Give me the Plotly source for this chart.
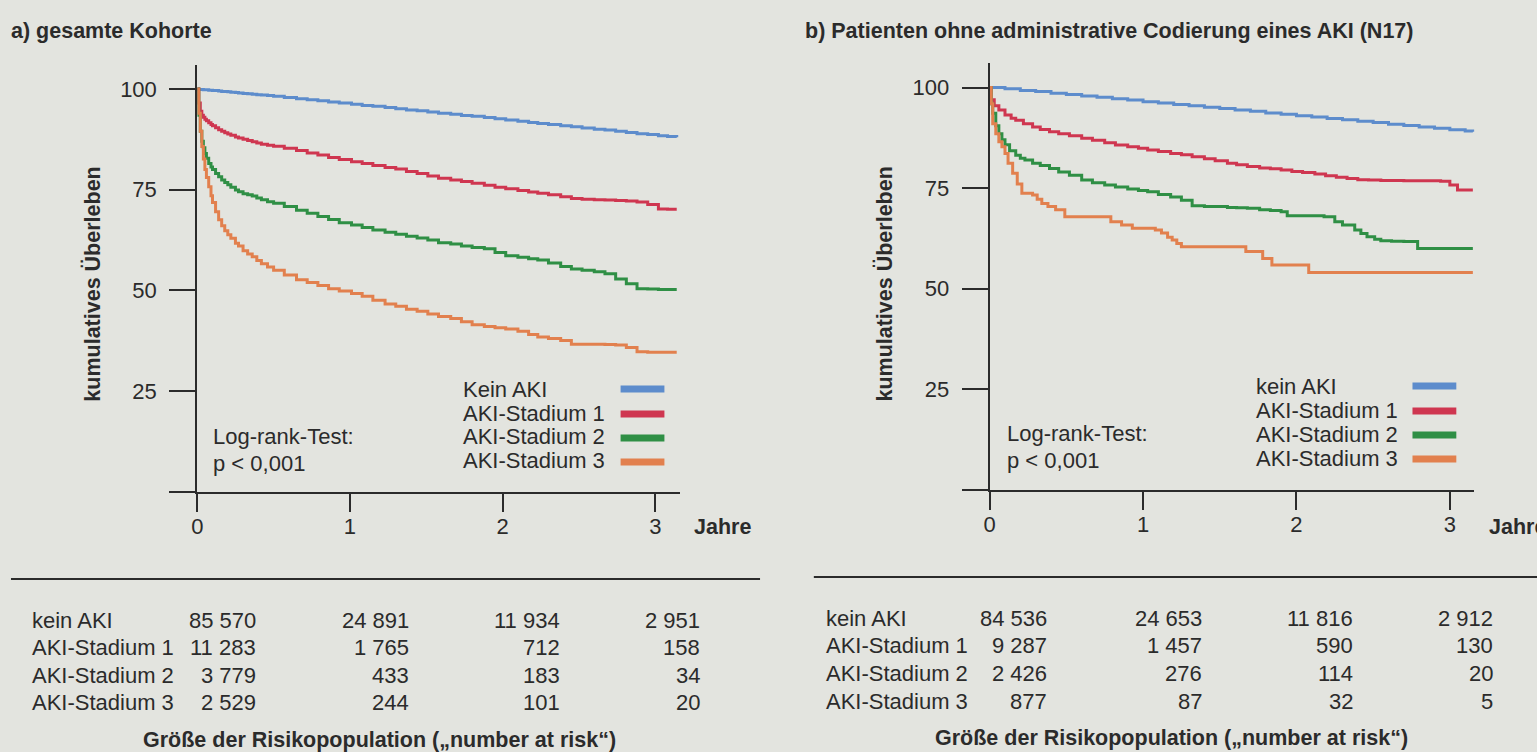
import plotly.graph_objects as go

# ---------------------------------------------------------------------------
# Kaplan-Meier survival (percent) by AKI stage
# ---------------------------------------------------------------------------
groups = ["kein AKI", "AKI-Stadium 1", "AKI-Stadium 2", "AKI-Stadium 3"]
legend_a = ["Kein AKI", "AKI-Stadium 1", "AKI-Stadium 2", "AKI-Stadium 3"]
legend_b = ["kein AKI", "AKI-Stadium 1", "AKI-Stadium 2", "AKI-Stadium 3"]
colors = ["#5d8ccc", "#cf3650", "#2f8f45", "#e2804e"]

# a) whole cohort: shared time grid (years)
t_a = [0, 0.01, 0.02, 0.03, 0.04, 0.05, 0.06, 0.075, 0.09, 0.1, 0.12, 0.14,
       0.16, 0.18, 0.2, 0.22, 0.25, 0.27, 0.3, 0.33, 0.36, 0.39, 0.42, 0.46,
       0.5, 0.57, 0.65, 0.72, 0.79, 0.86, 0.93, 1.01, 1.08, 1.15, 1.23, 1.3,
       1.37, 1.44, 1.51, 1.58, 1.66, 1.73, 1.8, 1.88, 1.95, 2.02, 2.1, 2.17,
       2.23, 2.3, 2.38, 2.45, 2.52, 2.6, 2.67, 2.74, 2.81, 2.88, 2.95, 3.02,
       3.08, 3.14]
surv_a_none = [100, 99.9, 99.9, 99.9, 99.8, 99.8, 99.8, 99.7, 99.7, 99.6, 99.6,
               99.5, 99.4, 99.4, 99.3, 99.2, 99.1, 99.0, 98.9, 98.8, 98.7, 98.6,
               98.5, 98.4, 98.2, 97.9, 97.6, 97.3, 97.1, 96.8, 96.5, 96.2, 95.9,
               95.7, 95.4, 95.1, 94.8, 94.6, 94.3, 94.0, 93.7, 93.4, 93.2, 92.9,
               92.6, 92.3, 92.0, 91.7, 91.4, 91.2, 90.9, 90.6, 90.3, 90.0, 89.8,
               89.5, 89.2, 88.9, 88.7, 88.4, 88.2, 88.0]
surv_a_s1 = [100, 96.5, 94.5, 93.5, 93.0, 92.5, 92.1, 91.6, 91.2, 90.9, 90.4,
             89.9, 89.5, 89.1, 88.8, 88.5, 88.1, 87.8, 87.5, 87.2, 86.9, 86.6,
             86.3, 86.0, 85.8, 85.3, 84.7, 84.1, 83.6, 83.0, 82.5, 81.9, 81.5,
             81.0, 80.5, 80.1, 79.5, 79.0, 78.4, 77.8, 77.4, 77.0, 76.6, 76.1,
             75.6, 75.2, 74.8, 74.4, 74.1, 73.7, 73.2, 72.8, 72.6, 72.5, 72.4,
             72.3, 72.2, 71.9, 71.3, 70.2, 70.1, 70.1]
surv_a_s2 = [100, 93.5, 89.5, 87.0, 85.4, 84.0, 82.8, 81.5, 80.6, 80.0, 79.0,
             78.2, 77.4, 76.8, 76.2, 75.6, 74.9, 74.5, 74.0, 73.7, 73.4, 72.9,
             72.5, 72.0, 71.6, 70.8, 69.9, 69.1, 68.3, 67.6, 66.8, 66.2, 65.6,
             65.0, 64.4, 63.9, 63.4, 63.0, 62.5, 61.8, 61.5, 61.0, 60.6, 60.3,
             59.4, 58.6, 58.2, 57.8, 57.5, 56.8, 55.9, 55.3, 55.0, 54.6, 54.1,
             52.8, 51.6, 50.4, 50.3, 50.2, 50.2, 50.2]
surv_a_s3 = [100, 94.0, 89.5, 85.7, 82.6, 80.0, 78.0, 75.7, 73.5, 71.8, 69.5,
             67.5, 66.0, 64.8, 63.8, 62.9, 61.7, 61.0, 59.8, 59.0, 58.3, 57.4,
             56.6, 55.8, 55.0, 53.8, 52.6, 51.9, 51.2, 50.4, 49.8, 49.2, 48.5,
             47.5, 46.6, 46.0, 45.3, 44.8, 44.1, 43.5, 43.0, 42.2, 41.4, 41.0,
             40.7, 40.4, 39.8, 39.0, 38.4, 38.0, 37.5, 36.6, 36.6, 36.6, 36.5,
             36.4, 35.8, 34.7, 34.6, 34.6, 34.6, 34.6]

# b) patients without administrative AKI coding (N17)
t_b_none = [0, 0.1, 0.2, 0.3, 0.4, 0.5, 0.6, 0.7, 0.8, 0.9, 1.0, 1.1, 1.2, 1.3,
            1.4, 1.5, 1.6, 1.7, 1.8, 1.9, 2.0, 2.1, 2.2, 2.3, 2.4, 2.5, 2.6,
            2.7, 2.8, 2.9, 3.0, 3.1, 3.15]
surv_b_none = [100, 99.7, 99.3, 99.0, 98.6, 98.3, 97.9, 97.6, 97.2, 96.9, 96.5,
               96.2, 95.8, 95.5, 95.1, 94.8, 94.4, 94.1, 93.7, 93.4, 93.0, 92.7,
               92.3, 92.0, 91.6, 91.3, 90.9, 90.6, 90.2, 89.9, 89.5, 89.2, 89.0]
t_b_s1 = [0, 0.01, 0.03, 0.06, 0.1, 0.14, 0.17, 0.22, 0.28, 0.33, 0.39, 0.45,
          0.52, 0.6, 0.67, 0.75, 0.82, 0.9, 0.97, 1.03, 1.1, 1.18, 1.25, 1.32,
          1.4, 1.47, 1.55, 1.61, 1.68, 1.76, 1.83, 1.9, 1.97, 2.04, 2.12, 2.19,
          2.26, 2.33, 2.4, 2.47, 2.55, 2.62, 2.7, 2.78, 2.86, 2.94, 3.0, 3.05,
          3.1, 3.15]
surv_b_s1 = [100, 97.0, 95.5, 94.4, 93.2, 92.4, 91.9, 91.0, 90.2, 89.6, 89.0,
             88.5, 88.0, 87.4, 86.9, 86.3, 85.7, 85.3, 84.9, 84.5, 84.1, 83.6,
             83.3, 82.8, 82.3, 81.8, 81.2, 80.8, 80.4, 80.0, 79.8, 79.5, 79.1,
             78.9, 78.5, 78.1, 77.7, 77.4, 77.1, 77.0, 76.9, 76.9, 76.8, 76.8,
             76.8, 76.7, 75.8, 74.5, 74.5, 74.5]
t_b_s2 = [0, 0.01, 0.02, 0.04, 0.06, 0.08, 0.1, 0.13, 0.17, 0.2, 0.23, 0.28,
          0.33, 0.39, 0.45, 0.52, 0.6, 0.67, 0.75, 0.82, 0.9, 0.97, 1.03, 1.1,
          1.18, 1.25, 1.32, 1.4, 1.55, 1.61, 1.68, 1.76, 1.83, 1.9, 1.94, 2.18,
          2.25, 2.3, 2.38, 2.42, 2.46, 2.51, 2.55, 2.62, 2.7, 2.79, 3.15]
surv_b_s2 = [100, 96.0, 93.6, 90.5, 88.5, 87.0, 85.8, 84.3, 83.2, 82.4, 82.0,
             81.2, 80.6, 79.9, 79.0, 78.2, 77.0, 76.3, 75.8, 75.3, 74.8, 74.4,
             74.1, 73.4, 72.8, 72.0, 70.6, 70.4, 70.2, 70.1, 70.0, 69.6, 69.4,
             69.1, 68.1, 67.9, 66.6, 65.8, 64.6, 63.7, 62.9, 62.3, 61.9, 61.8,
             61.7, 60.0, 60.0]
t_b_s3 = [0, 0.01, 0.02, 0.04, 0.06, 0.08, 0.1, 0.12, 0.15, 0.18, 0.21, 0.28,
          0.31, 0.34, 0.38, 0.43, 0.49, 0.79, 0.86, 0.93, 1.08, 1.12, 1.16,
          1.19, 1.22, 1.25, 1.67, 1.78, 1.84, 2.08, 3.15]
surv_b_s3 = [100, 96.0, 91.0, 88.5, 86.5, 85.3, 83.6, 81.2, 78.7, 76.0, 73.7,
             73.3, 72.2, 71.2, 70.4, 69.6, 67.9, 66.6, 65.8, 65.0, 64.6, 63.8,
             62.8, 62.1, 61.2, 60.4, 59.2, 57.5, 55.9, 54.0, 54.0]

# number at risk at 0, 1, 2, 3 years
risk_a = [[85570, 24891, 11934, 2951],
          [11283, 1765, 712, 158],
          [3779, 433, 183, 34],
          [2529, 244, 101, 20]]
risk_b = [[84536, 24653, 11816, 2912],
          [9287, 1457, 590, 130],
          [2426, 276, 114, 20],
          [877, 87, 32, 5]]

year_ticks = [0, 1, 2, 3]
surv_ticks = [0, 25, 50, 75, 100]
surv_ticktext = ["", "25", "50", "75", "100"]

# ---------------------------------------------------------------------------
W, H = 1537, 752
BG = "#e3e4df"
INK = "#2b2b2b"
FONT = "Liberation Sans, Arial, Helvetica, sans-serif"
FS = 22        # regular text size
FSB = 21.5     # bold text size


def px(x):
    return x / W


def py(y):
    return 1 - y / H


def fmt(n):
    return f"{n:,}".replace(",", " ")


fig = go.Figure()

curves_a = [(t_a, surv_a_none), (t_a, surv_a_s1), (t_a, surv_a_s2), (t_a, surv_a_s3)]
curves_b = [(t_b_none, surv_b_none), (t_b_s1, surv_b_s1),
            (t_b_s2, surv_b_s2), (t_b_s3, surv_b_s3)]

for (t, s), name, col in zip(curves_a, groups, colors):
    fig.add_trace(go.Scatter(x=t, y=s, mode="lines", name=name,
                             line=dict(color=col, width=3, shape="hv"),
                             xaxis="x", yaxis="y", showlegend=False))
for (t, s), name, col in zip(curves_b, groups, colors):
    fig.add_trace(go.Scatter(x=t, y=s, mode="lines", name=name,
                             line=dict(color=col, width=3, shape="hv"),
                             xaxis="x2", yaxis="y2", showlegend=False))

axis_common = dict(showline=True, linecolor=INK, linewidth=2, showgrid=False,
                   zeroline=False, ticks="outside", tickcolor=INK, tickwidth=2,
                   tickfont=dict(family=FONT, size=FS, color=INK))

# panel geometry (pixels): y-axis position, px per year, baseline, px per %
panels = {
    "a": dict(x0=192, xs=153.3, y0=491.5, ys=4.025),
    "b": dict(x0=987.5, xs=154.0, y0=489.6, ys=4.02),
}
XMAX, YMAX = 3.16, 106

layout_axes = {}
for key, (xa, ya) in zip(["a", "b"], [("xaxis", "yaxis"), ("xaxis2", "yaxis2")]):
    g = panels[key]
    layout_axes[xa] = dict(
        axis_common, domain=[px(g["x0"]), px(g["x0"] + XMAX * g["xs"])],
        range=[0, XMAX], tickvals=year_ticks, ticklen=18, ticklabelstandoff=-4,
        anchor="y" if key == "a" else "y2")
    layout_axes[ya] = dict(
        axis_common, domain=[py(g["y0"]), py(g["y0"] - YMAX * g["ys"])],
        range=[0, YMAX], tickvals=surv_ticks, ticktext=surv_ticktext,
        ticklen=26, ticklabelstandoff=8,
        anchor="x" if key == "a" else "x2")

annotations = []
shapes = []


def text(x, y, s, size=FS, bold=False, xanchor="left", angle=0):
    annotations.append(dict(
        x=px(x), y=py(y), xref="paper", yref="paper", showarrow=False,
        text=f"<b>{s}</b>" if bold else s, xanchor=xanchor, yanchor="middle",
        textangle=angle, borderpad=0,
        font=dict(family=FONT, size=size, color=INK)))


def hline(x0, x1, y, color=INK, width=2):
    shapes.append(dict(type="line", xref="paper", yref="paper",
                       x0=px(x0), x1=px(x1), y0=py(y), y1=py(y),
                       line=dict(color=color, width=width)))


# titles
text(4, 31, "a) gesamte Kohorte", size=FSB, bold=True)
text(801, 31, "b) Patienten ohne administrative Codierung eines AKI (N17)",
     size=FSB, bold=True)

# y-axis titles and time unit
text(86, 284, "kumulatives Überleben", size=FSB, bold=True, xanchor="center", angle=-90)
text(881, 284, "kumulatives Überleben", size=FSB, bold=True, xanchor="center", angle=-90)
text(690, 527, "Jahre", size=FSB, bold=True)
text(1488, 527, "Jahre", size=FSB, bold=True)

# legends (label left, colour swatch right)
leg_a = dict(tx=458, sx0=617, sx1=661, ty=[390, 413, 437, 461], sy=[389, 414, 438, 462])
leg_b = dict(tx=1254, sx0=1412, sx1=1456, ty=[386, 410, 434, 458], sy=[386, 411, 435, 459])
for leg, names in [(leg_a, legend_a), (leg_b, legend_b)]:
    for name, col, ty, sy in zip(names, colors, leg["ty"], leg["sy"]):
        text(leg["tx"], ty, name)
        hline(leg["sx0"], leg["sx1"], sy, color=col, width=7)

# log-rank test
text(207, 437, "Log-rank-Test:")
text(207, 463, "p &lt; 0,001")
text(1004, 433, "Log-rank-Test:")
text(1004, 460, "p &lt; 0,001")

# number-at-risk tables
hline(5, 757, 579)
hline(811, 1537, 577)
tab_a = dict(lx=25, cols=[252, 406, 557, 698], rows=[620, 647, 675, 702])
tab_b = dict(lx=822, cols=[1046, 1202, 1353, 1494], rows=[618, 645, 673, 701])
for tab, risk in [(tab_a, risk_a), (tab_b, risk_b)]:
    for name, counts, ry in zip(groups, risk, tab["rows"]):
        text(tab["lx"], ry, name)
        for n, cx in zip(counts, tab["cols"]):
            text(cx, ry, fmt(n), xanchor="right")

text(375, 740, "Größe der Risikopopulation („number at risk“)", size=FSB,
     bold=True, xanchor="center")
text(1170, 738, "Größe der Risikopopulation („number at risk“)", size=FSB,
     bold=True, xanchor="center")

fig.update_layout(
    width=W, height=H, margin=dict(l=0, r=0, t=0, b=0),
    paper_bgcolor=BG, plot_bgcolor="rgba(0,0,0,0)",
    annotations=annotations, shapes=shapes, showlegend=False,
    **layout_axes)

fig.write_html("out.html")
